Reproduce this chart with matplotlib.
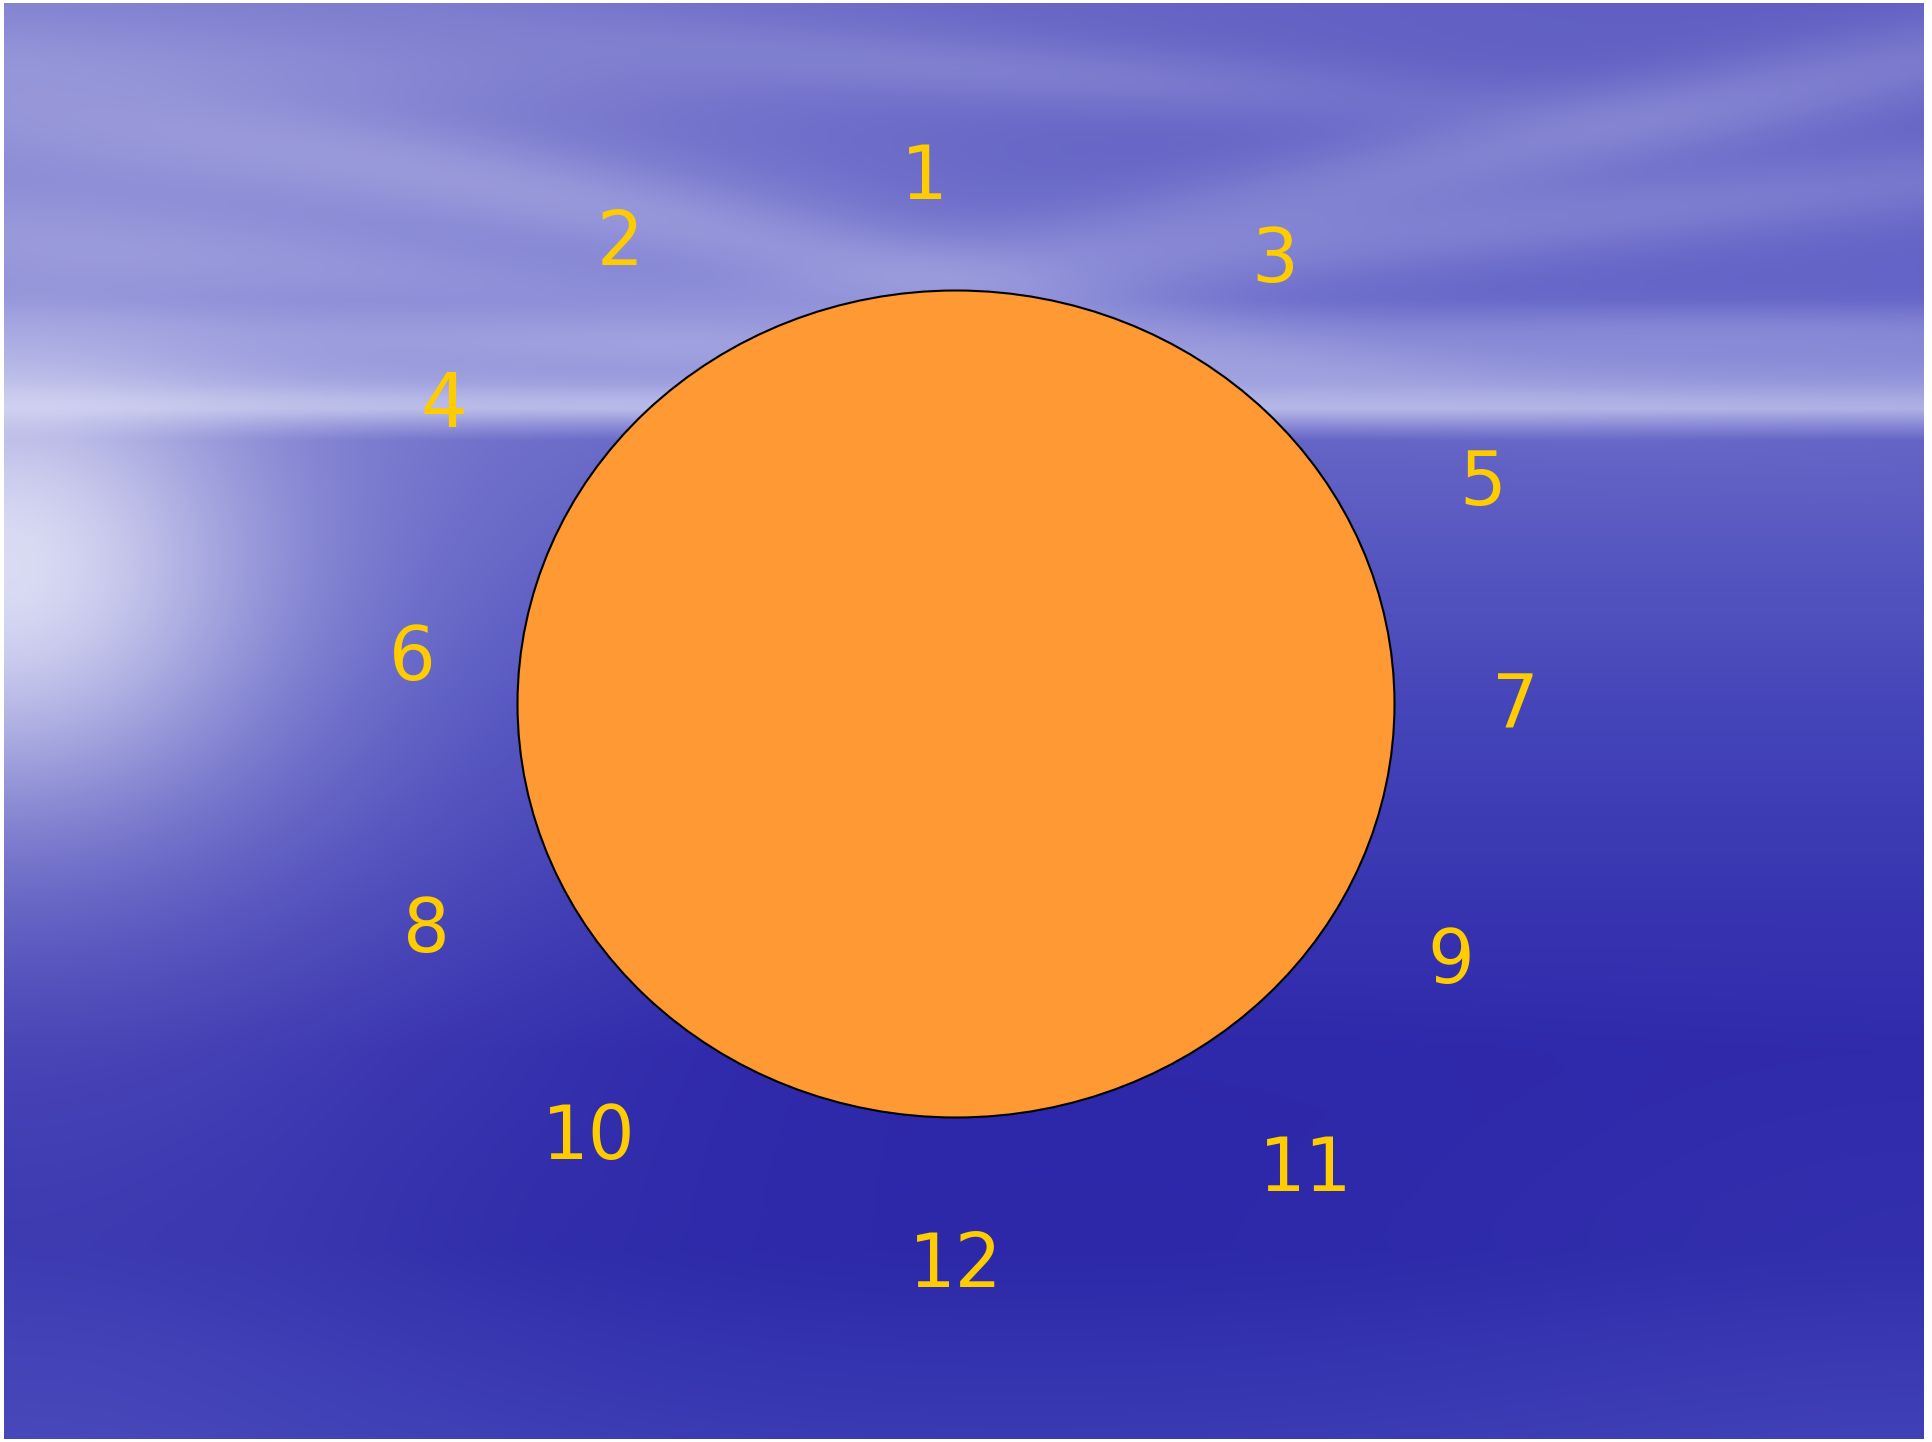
import numpy as np
import matplotlib
matplotlib.use("Agg")
import matplotlib.pyplot as plt
from matplotlib.patches import Ellipse

W, H = 1932, 1442

# number labels placed around the sun (pixel coords, glyph centres)
labels = ["1", "2", "3", "4", "5", "6", "7", "8", "9", "10", "11", "12"]
label_x = [924, 620, 1275, 444, 1483, 412, 1515, 426, 1451, 589, 1306, 956]
label_y = [172, 238, 255, 400, 478, 653, 700, 925, 956, 1132, 1164, 1260]

sun_center = (956, 704)
sun_w, sun_h = 877, 827

# ---- background picture (sky + sea) ----
yy, xx = np.mgrid[0:H, 0:W].astype(float)

stops_y = [0, 300, 385, 408, 440, 700, 1050, 1250, 1442]
stops_c = [(96, 94, 194), (100, 100, 200), (150, 152, 220), (172, 174, 228),
           (100, 100, 198), (70, 70, 186), (46, 40, 170), (44, 40, 168), (58, 58, 180)]
img = np.zeros((H, W, 3))
for k in range(3):
    img[..., k] = np.interp(yy[:, 0], stops_y, [c[k] for c in stops_c])[:, None]

def mix(img, w, col):
    w = np.clip(w, 0, 1)[..., None]
    return img * (1 - w) + np.array(col) * w

# lighter sky towards the left
sky = np.clip((420 - yy) / 420, 0, 1) ** 0.6
img = mix(img, 0.4 * sky * np.exp(-(xx / 900) ** 2), (175, 176, 228))

# cloud streaks: x, y, length, thickness, angle(deg), strength
clouds = [(250, 150, 700, 60, 8, 0.3), (350, 270, 800, 50, 6, 0.3),
          (800, 250, 550, 40, 12, 0.28), (1000, 70, 500, 35, 4, 0.22),
          (1600, 130, 700, 45, -12, 0.3), (1550, 220, 800, 40, -6, 0.25),
          (150, 60, 500, 40, 3, 0.18), (1750, 330, 500, 25, 0, 0.2),
          (700, 345, 700, 25, 2, 0.25)]
for cx, cy, L, T, ang, s in clouds:
    a = np.deg2rad(ang)
    u = (xx - cx) * np.cos(a) + (yy - cy) * np.sin(a)
    v = -(xx - cx) * np.sin(a) + (yy - cy) * np.cos(a)
    img = mix(img, s * np.exp(-(u / L) ** 2 - (v / T) ** 2), (200, 202, 238))

# horizon band
img = mix(img, 0.35 * np.exp(-((yy - 402) / 16) ** 2) * np.exp(-((xx - 500) / 1300) ** 2), (205, 208, 240))

# sunlight glow on the left
img = mix(img, 0.92 * np.exp(-(xx / 230) ** 2 - ((yy - 570) / 200) ** 2), (245, 245, 252))
img = mix(img, 0.45 * np.exp(-(xx / 480) ** 2 - ((yy - 640) / 380) ** 2), (200, 202, 238))
img = mix(img, 0.22 * np.exp(-(xx / 500) ** 2) * np.clip((yy - 750) / 600, 0, 1), (120, 122, 210))

# sea slightly lighter at the right and bottom edges
img = mix(img, 0.2 * np.exp(-((xx - W) / 500) ** 2) * np.clip((yy - 900) / 500, 0, 1), (90, 90, 200))

img = np.clip(img, 0, 255).astype(np.uint8)

fig = plt.figure(figsize=(W / 100, H / 100), dpi=100)
fig.patch.set_facecolor("white")
ax = fig.add_axes([0, 0, 1, 1])
ax.set_xlim(0, W)
ax.set_ylim(H, 0)
ax.axis("off")

ax.imshow(img[3:1439, 4:1924], extent=(4, 1924, 1439, 3), interpolation="bilinear", zorder=0)

ax.add_patch(Ellipse(sun_center, sun_w, sun_h, facecolor="#FF9933",
                     edgecolor="black", linewidth=1.5, zorder=2))

for t, x, y in zip(labels, label_x, label_y):
    ax.text(x, y + 27, t, color="#FFCC00", fontsize=53, family="DejaVu Sans",
            ha="center", va="baseline", zorder=3)

fig.savefig("out.png", dpi=100, facecolor="white")
